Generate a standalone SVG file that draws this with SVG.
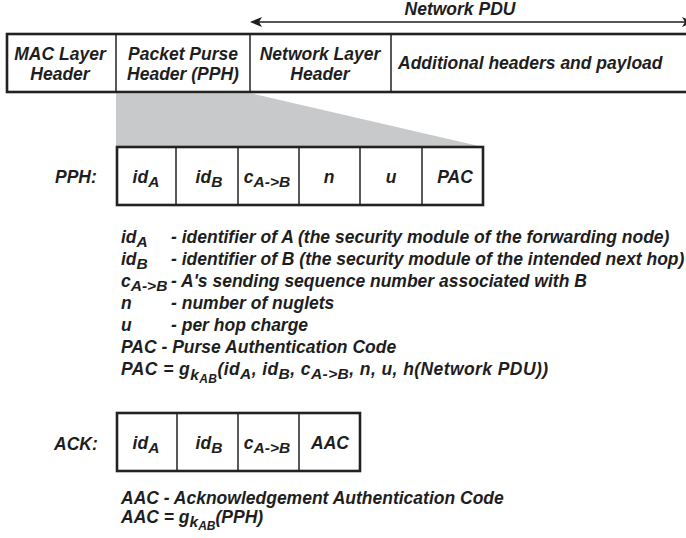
<svg xmlns="http://www.w3.org/2000/svg" width="686" height="538" viewBox="0 0 686 538">
<style>
text{font-family:"Liberation Sans",Arial,sans-serif;font-weight:bold;font-style:italic;font-size:17.5px;fill:#1e1e1e}
.c{text-anchor:middle}
.s{font-size:15.5px}
.ss{font-size:12px}
.frame{fill:#fff;stroke:#222;stroke-width:2.6}
.div{stroke:#222;stroke-width:1.5;fill:none}
.head{fill:#1e1e1e}
</style>
<rect width="686" height="538" fill="#fff"/>

<g id="connectors">
<line x1="258" y1="22" x2="686" y2="22" stroke="#1e1e1e" stroke-width="1.5"/>
<polygon class="head" points="250,22 262,17 259,22 262,27"/>
<polygon class="head" points="694,22 682,17 685,22 682,27"/>
<polygon id="expansion" points="116,93.5 252,93.5 483,147 116,147" fill="#c8c9ca"/>
</g>
<text class="c" x="460" y="15">Network PDU</text>

<g id="frame">
<rect class="frame" x="7" y="34" width="700" height="58"/>
<g id="mac"><line class="div" x1="116" y1="34" x2="116" y2="92"/>
<text class="c" x="60" y="60">MAC Layer</text><text class="c" x="60" y="80">Header</text></g>
<g id="pph-cell"><line class="div" x1="250" y1="34" x2="250" y2="92"/>
<text class="c" x="183" y="60">Packet Purse</text><text class="c" x="183" y="80">Header (PPH)</text></g>
<g id="nlh"><line class="div" x1="391" y1="34" x2="391" y2="92"/>
<text class="c" x="320" y="60">Network Layer</text><text class="c" x="320" y="80">Header</text></g>
<g id="payload"><text x="398" y="69">Additional headers and payload</text></g>
</g>

<g id="pph">
<text x="55" y="183">PPH:</text>
<rect class="frame" x="117" y="147" width="366" height="58"/>
<line class="div" x1="176" y1="147" x2="176" y2="205"/>
<line class="div" x1="238" y1="147" x2="238" y2="205"/>
<line class="div" x1="299" y1="147" x2="299" y2="205"/>
<line class="div" x1="360" y1="147" x2="360" y2="205"/>
<line class="div" x1="422" y1="147" x2="422" y2="205"/>
<g id="pph-idA"><text class="c" x="146" y="183">id<tspan class="s" dy="4">A</tspan></text></g>
<g id="pph-idB"><text class="c" x="209" y="183">id<tspan class="s" dy="4">B</tspan></text></g>
<g id="pph-c"><text class="c" x="267" y="183">c<tspan class="s" dy="4">A-&gt;B</tspan></text></g>
<g id="pph-n"><text class="c" x="329" y="183">n</text></g>
<g id="pph-u"><text class="c" x="391" y="183">u</text></g>
<g id="pph-pac"><text class="c" x="455" y="183">PAC</text></g>
</g>

<g id="legend">
<text x="121" y="243">id<tspan class="s" dy="4">A</tspan></text><text x="171" y="243">- identifier of A (the security module of the forwarding node)</text>
<text x="121" y="265">id<tspan class="s" dy="4">B</tspan></text><text x="171" y="265">- identifier of B (the security module of the intended next hop)</text>
<text x="121" y="287">c<tspan class="s" dy="4">A-&gt;B</tspan></text><text x="171" y="287">- A's sending sequence number associated with B</text>
<text x="121" y="309">n</text><text x="171" y="309">- number of nuglets</text>
<text x="121" y="331">u</text><text x="171" y="331">- per hop charge</text>
<text x="121" y="353">PAC - Purse Authentication Code</text>
<text x="121" y="375" textLength="427" lengthAdjust="spacing">PAC = g<tspan class="s" dy="5">k</tspan><tspan class="ss" dy="3">AB</tspan><tspan dy="-8">(id</tspan><tspan class="s" dy="4">A</tspan><tspan dy="-4">, id</tspan><tspan class="s" dy="4">B</tspan><tspan dy="-4">, c</tspan><tspan class="s" dy="4">A-&gt;B</tspan><tspan dy="-4">, n, u, h(Network PDU))</tspan></text>
</g>

<g id="ack">
<text x="54" y="450">ACK:</text>
<rect class="frame" x="117" y="413" width="243" height="58"/>
<line class="div" x1="177" y1="413" x2="177" y2="471"/>
<line class="div" x1="238" y1="413" x2="238" y2="471"/>
<line class="div" x1="299" y1="413" x2="299" y2="471"/>
<g id="ack-idA"><text class="c" x="146" y="449">id<tspan class="s" dy="4">A</tspan></text></g>
<g id="ack-idB"><text class="c" x="209" y="449">id<tspan class="s" dy="4">B</tspan></text></g>
<g id="ack-c"><text class="c" x="267" y="449">c<tspan class="s" dy="4">A-&gt;B</tspan></text></g>
<g id="ack-aac"><text class="c" x="330" y="449">AAC</text></g>
</g>

<g id="ack-legend">
<text x="121" y="504">AAC - Acknowledgement Authentication Code</text>
<text x="121" y="523">AAC = g<tspan class="s" dy="4">k</tspan><tspan class="ss" dy="3">AB</tspan><tspan dy="-7">(PPH)</tspan></text>
</g>
</svg>
